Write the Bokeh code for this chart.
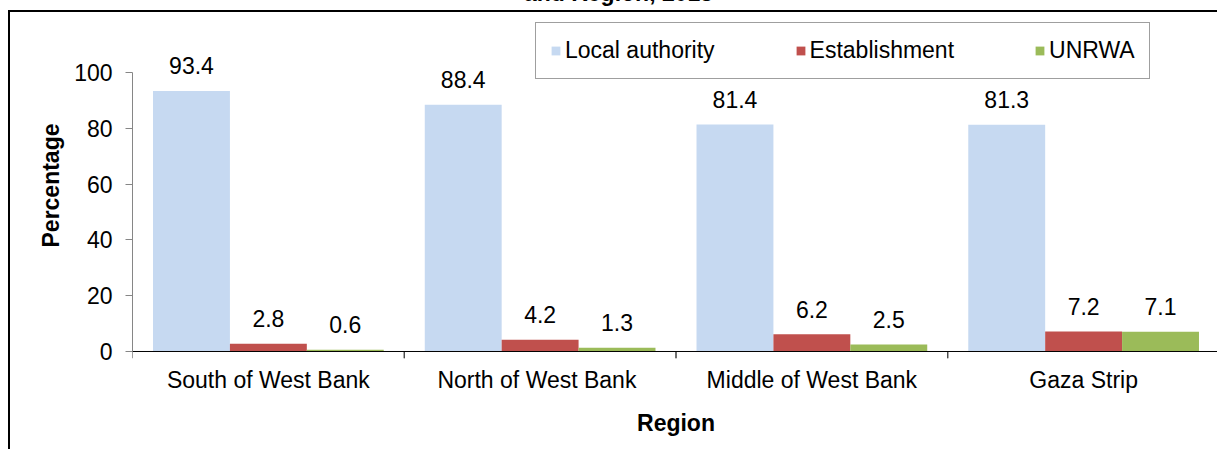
from bokeh.plotting import figure
from bokeh.models import (FactorRange, Range1d, FixedTicker, ColumnDataSource,
                          Legend, LegendItem, Span, Div)
from bokeh.transform import dodge
from bokeh.layouts import column
from bokeh.core.properties import value
from bokeh.embed import file_html
from bokeh.resources import INLINE

# ---- data ----
regions = ["South of West Bank", "North  of West Bank", "Middle of West Bank", "Gaza Strip"]
local_authority = [93.4, 88.4, 81.4, 81.3]
establishment = [2.8, 4.2, 6.2, 7.2]
unrwa = [0.6, 1.3, 2.5, 7.1]
series_names = ["Local authority", "Establishment", "UNRWA"]
y_ticks = [0, 20, 40, 60, 80, 100]
title_text = "and Region, 2015"

# ---- style ----
FONT = "Liberation Sans"
FS = "23px"
colors = ["#C6D9F1", "#C0504D", "#9BBB59"]
bar_w = 0.283

source = ColumnDataSource(dict(
    region=regions,
    la=local_authority, est=establishment, un=unrwa,
    la_txt=[f"{v:.1f}" for v in local_authority],
    est_txt=[f"{v:.1f}" for v in establishment],
    un_txt=[f"{v:.1f}" for v in unrwa],
))

p = figure(x_range=FactorRange(*regions, range_padding=0, factor_padding=0),
           y_range=Range1d(-2.51, 121.5),
           width=1209, height=439,
           output_backend="svg", toolbar_location=None,
           min_border_left=122, min_border_right=0,
           min_border_top=0, min_border_bottom=93,
           styles={"border-left": "2px solid black", "border-top": "2px solid black"})

p.outline_line_color = None
p.xgrid.visible = False
p.ygrid.visible = False

# x axis line and boundary ticks
p.add_layout(Span(location=0, dimension="width", line_color="black", line_width=1))
for off in (-0.5, 0.5):
    p.segment(x0=dodge("region", off, range=p.x_range), y0=0,
              x1=dodge("region", off, range=p.x_range), y1=-2.5,
              source=source, line_color="#404040", line_width=1)

items = []
for k, (col, name, color) in enumerate(zip(["la", "est", "un"], series_names, colors)):
    off = (k - 1) * bar_w
    r = p.vbar(x=dodge("region", off, range=p.x_range), top=col, bottom=0,
               width=bar_w, source=source, fill_color=color, line_color=None)
    p.text(x=dodge("region", off, range=p.x_range), y=col, text=col + "_txt",
           source=source, text_align="center", text_baseline="alphabetic",
           y_offset=-25, text_font=value(FONT), text_font_size=FS, text_color="black")
    items.append(LegendItem(label=name, renderers=[r]))

legend = Legend(items=items, orientation="horizontal", location=(403, 279),
                glyph_width=11, glyph_height=11, label_standoff=4, spacing=80,
                padding=14, margin=0, border_line_color="#404040", border_line_width=1,
                label_text_font=FONT, label_text_font_size=FS, label_text_color="black",
                background_fill_color="white", background_fill_alpha=1)
p.add_layout(legend)

xa = p.xaxis[0]
xa.axis_line_color = None
xa.major_tick_line_color = None
xa.major_tick_out = 0
xa.major_label_standoff = 8
xa.major_label_text_font = FONT
xa.major_label_text_font_size = FS
xa.major_label_text_color = "black"
xa.axis_label = "Region"
xa.axis_label_text_font = FONT
xa.axis_label_text_font_size = FS
xa.axis_label_text_font_style = "bold"
xa.axis_label_text_color = "black"
xa.axis_label_standoff = 14

ya = p.yaxis[0]
ya.ticker = FixedTicker(ticks=y_ticks)
ya.bounds = (0, 100)
ya.axis_line_color = "#868686"
ya.major_tick_line_color = "#868686"
ya.major_tick_out = 7
ya.major_tick_in = 0
ya.minor_tick_line_color = None
ya.major_label_standoff = 13
ya.major_label_text_font = FONT
ya.major_label_text_font_size = FS
ya.major_label_text_color = "black"
ya.axis_label = "Percentage"
ya.axis_label_text_font = FONT
ya.axis_label_text_font_size = FS
ya.axis_label_text_font_style = "bold"
ya.axis_label_text_color = "black"
ya.axis_label_standoff = 7

title = Div(text=("<div style=\"width:1211px;text-align:center;font-weight:bold;"
                  "font-size:23px;font-family:'Liberation Sans';line-height:24px;\">"
                  + title_text + "</div>"),
            width=1211, height=24)

root = column(title, p, styles={"margin-top": "-24px", "margin-left": "8px"})

open("out.html", "w").write(file_html(root, INLINE))
